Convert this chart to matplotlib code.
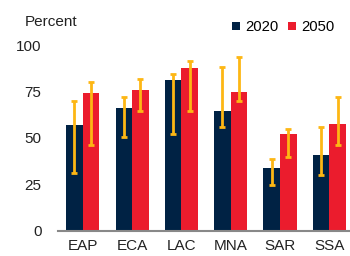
import matplotlib
matplotlib.use("Agg")
import matplotlib.pyplot as plt
import numpy as np

plt.rcParams['font.family'] = ['Liberation Sans', 'DejaVu Sans']

categories = ["EAP", "ECA", "LAC", "MNA", "SAR", "SSA"]
v2020 = [57, 66, 81, 64.5, 34, 41]
v2050 = [74, 76, 87.5, 75, 52, 57.5]
lo2020 = [31, 50.5, 52, 56, 24.5, 30]
hi2020 = [70, 72, 84.5, 88, 38.5, 56]
lo2050 = [46, 64.5, 64.5, 70, 40, 46]
hi2050 = [80, 81.5, 91.5, 93.5, 54.7, 72]
yticks = [0, 25, 50, 75, 100]

navy = "#002244"
red = "#EB1C2D"
orange = "#FDB714"

fig = plt.figure(figsize=(3.5, 2.56), dpi=100)
ax = fig.add_axes([0.166, 0.098, 0.834, 0.726])

x = np.arange(len(categories))
w = 0.335
ax.bar(x - w/2, v2020, w, color=navy, label="2020")
ax.bar(x + w/2, v2050, w, color=red, label="2050")

def yerr(v, lo, hi):
    v = np.array(v); return [v - np.array(lo), np.array(hi) - v]

ax.errorbar(x - w/2, v2020, yerr=yerr(v2020, lo2020, hi2020), fmt='none',
            ecolor=orange, elinewidth=2, capsize=2.5, capthick=2)
ax.errorbar(x + w/2, v2050, yerr=yerr(v2050, lo2050, hi2050), fmt='none',
            ecolor=orange, elinewidth=2, capsize=2.5, capthick=2)

ax.set_xlim(-0.5, 5.42)
ax.set_ylim(0, 100)
ax.set_yticks(yticks)
ax.set_xticks(x)
ax.set_xticklabels(categories)
ax.tick_params(axis='both', length=0, labelsize=11, colors='#222222')
ax.tick_params(axis='y', pad=12)
ax.tick_params(axis='x', pad=6)
for s in ['top', 'right', 'left']:
    ax.spines[s].set_visible(False)
ax.spines['bottom'].set_color('#888888')
ax.spines['bottom'].set_linewidth(1.5)

fig.text(0.072, 0.915, "Percent", fontsize=11, color='#222222', va='center', ha='left')
fig.legend(loc='center right', bbox_to_anchor=(0.985, 0.893), ncol=2, frameon=False,
           fontsize=10.7, handlelength=0.5, handleheight=0.5, handletextpad=0.35,
           columnspacing=0.7, borderpad=0.2)

fig.savefig("out.png", dpi=100)
